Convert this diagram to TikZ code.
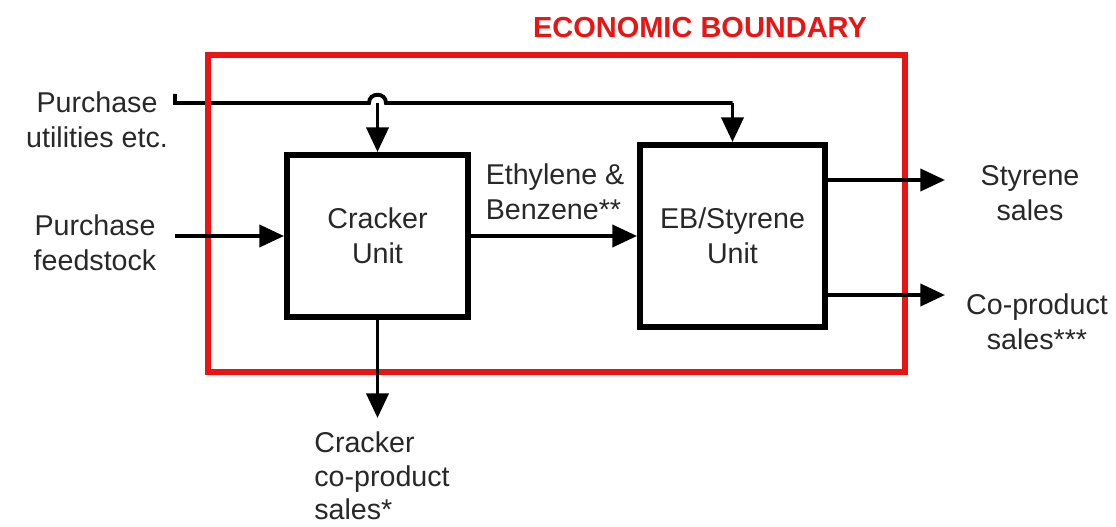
\documentclass[tikz,border=0pt]{standalone}
\usepackage{fontspec}
\setmainfont{Liberation Sans}
\usetikzlibrary{arrows.meta,calc}
\definecolor{bred}{RGB}{235,20,20}
\definecolor{txt}{RGB}{40,40,40}
\begin{document}
\begin{tikzpicture}[x=0.02cm,y=-0.02cm,
  every node/.style={font=\fontsize{16.3}{19.8}\selectfont, text=txt},
  unitbox/.style={draw=black, line width=3.4pt, align=center, inner sep=0pt},
  flow/.style={line width=2.2pt, -{Triangle[length=14pt,width=12.5pt]}},
  plain/.style={line width=2.2pt},
  lbl/.style={align=center, inner sep=0pt}]
\useasboundingbox (0,0) rectangle (1116,527);
% nodes
\node[unitbox, minimum width=3.62cm, minimum height=3.24cm] (Cr) at (377.5,236) {Cracker\\Unit};
\node[unitbox, minimum width=3.7cm, minimum height=3.64cm] (EB) at (732.5,236) {EB/Styrene\\Unit};
\coordinate (Ut) at (175,94);
\coordinate (Fd) at (175,236);
\coordinate (St) at (945,180);
\coordinate (Cp) at (945,295);
\coordinate (Cd) at (377.5,418);
% utilities line
\draw[plain] (Ut) -- (175,103) -- (369,103) .. controls (369,92) and (386,92) .. (386,103) -- (EB.north |- 0,103);
\draw[flow] (EB.north |- 0,103) -- (EB.north);
\draw[flow] (377.5,103) -- (Cr.north);
% boundary
\draw[bred, line width=3.4pt] (208,55) rectangle (905,372);
\node[text=bred, font=\fontsize{16.5}{19}\selectfont\bfseries, inner sep=0pt] (EBT) at (700,28) {ECONOMIC BOUNDARY};
% flows
\draw[flow] (Fd) -- (Cr.west);
\draw[flow] (Cr.east) -- (EB.west);
\draw[flow] (EB.east |- St) -- (St);
\draw[flow] (EB.east |- Cp) -- (Cp);
\draw[flow] (Cr.south) -- (Cd);
% labels
\node[lbl] (LU) at (97,120) {Purchase\\utilities etc.};
\node[lbl] (LF) at (95,243) {Purchase\\feedstock};
\node[lbl, align=left] (LE) at (555,192) {Ethylene \&\\Benzene**};
\node[lbl] (LS) at (1030,193) {Styrene\\sales};
\node[lbl] (LC) at (1037,322) {Co-product\\sales***};
\node[lbl, align=left, anchor=west, font=\fontsize{16.3}{19}\selectfont] (LK) at (314,476) {Cracker\\co-product\\sales*};
\end{tikzpicture}
\end{document}
